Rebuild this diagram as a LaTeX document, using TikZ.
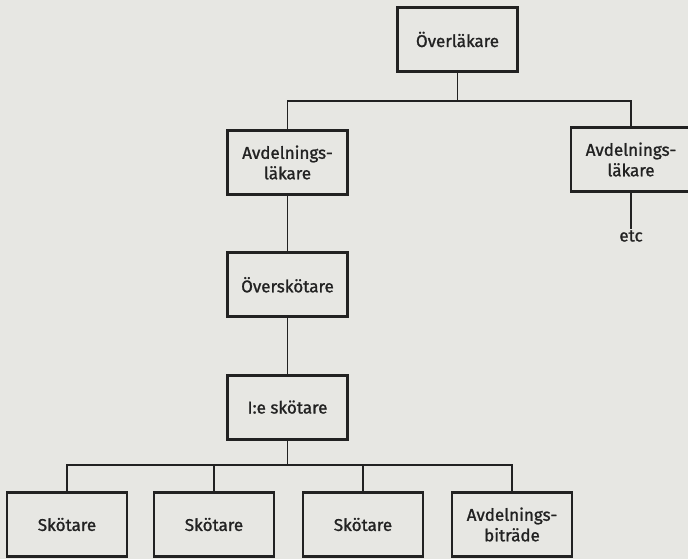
\documentclass[tikz,border=0pt]{standalone}
\usepackage{fontspec}
\setmainfont{Fira Sans}[UprightFeatures={FakeBold=1.2}]
\usetikzlibrary{positioning}
\definecolor{paper}{HTML}{E7E7E3}
\definecolor{ink}{HTML}{222222}

\begin{document}
\begin{tikzpicture}[x=1pt,y=-1pt,node distance=55.5pt,
 b/.style={draw=ink,line width=2.8pt,align=center,minimum width=120pt,minimum height=64pt,inner sep=2pt,font=\fontsize{17}{20.5}\selectfont,text=ink},
 ln/.style={draw=ink,line width=1.8pt}]
\fill[paper] (0,0) rectangle (688,559);
\clip (0,0) rectangle (688,559);
\node[b] (chef) at (457.5,39.5) {Överläkare};
\node[b] (avd1) at (287.5,162.5) {Avdelnings-\\läkare};
\node[b] (avd2) at (631,159.5) {Avdelnings-\\läkare};
\node[b,below=of avd1] (oversk) {Överskötare};
\node[b,below=of oversk] (forste) {I:e skötare};
\node[font=\fontsize{17}{20.5}\selectfont,text=ink,inner sep=1pt] (etc) at (631,236) {etc};
\node[b] (s1) at (67,524.5) {Skötare};
\node[b] (s2) at (214,524.5) {Skötare};
\node[b] (s3) at (363,524.5) {Skötare};
\node[b] (bitr) at (512,524.5) {Avdelnings-\\biträde};
\coordinate (top) at (457.5,101);
\coordinate (low) at (287.5,465);
\draw[ln] (chef) -- (top);
\draw[ln] (avd1) |- (top) -| (avd2);
\draw[ln] (avd2) -- (etc);
\draw[ln] (avd1) -- (oversk);
\draw[ln] (oversk) -- (forste);
\draw[ln] (forste) -- (low);
\draw[ln] (s1) |- (low) -| (bitr);
\draw[ln] (s2) -- (s2 |- low);
\draw[ln] (s3) -- (s3 |- low);
\end{tikzpicture}
\end{document}
